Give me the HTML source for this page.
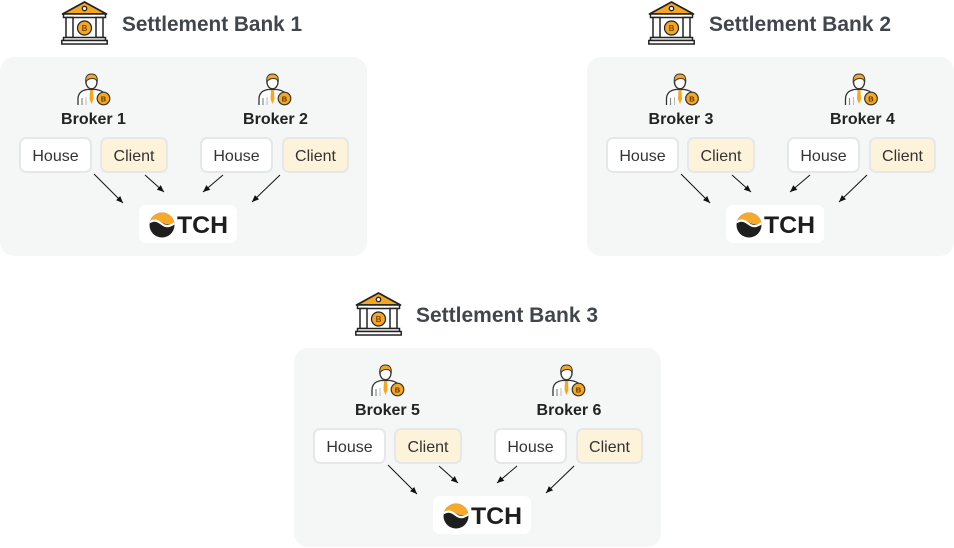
<!DOCTYPE html>
<html><head><meta charset="utf-8"><style>
html,body{margin:0;padding:0;background:#fff;}
svg{display:block;}
text{font-family:"Liberation Sans",Arial,sans-serif;}
.t{font-size:21px;font-weight:bold;fill:#41464c;}
.b{font-size:16px;font-weight:bold;fill:#222;text-anchor:middle;}
.l{font-size:16px;fill:#333;text-anchor:middle;}
.tch{font-size:24px;font-weight:bold;fill:#1e1e1e;}
.cb{font-size:8px;font-weight:bold;fill:#7a4a00;text-anchor:middle;}
.cs{font-size:7.5px;font-weight:bold;fill:#5a3600;text-anchor:middle;}
.ln{stroke:#111;stroke-width:1;fill:none;}
</style></head><body>
<svg width="954" height="548" viewBox="0 0 954 548" xmlns="http://www.w3.org/2000/svg">
<defs>
<marker id="ah" markerWidth="8" markerHeight="8" refX="7" refY="4" orient="auto" markerUnits="userSpaceOnUse">
<path d="M0,1 L7,4 L0,7 Z" fill="#111"/>
</marker>
<clipPath id="lc"><circle cx="162" cy="225" r="12.5"/></clipPath>
</defs>

<!-- PANEL 1 -->
<g transform="translate(0,0)">
<rect x="0" y="57" width="367" height="199" rx="14" fill="#f5f6f6"/>
<g transform="translate(61,1)">
<polygon points="23.5,1 1.5,13 45.5,13" fill="#f5a623" stroke="#222" stroke-width="1.8" stroke-linejoin="round"/>
<circle cx="23.5" cy="7.5" r="2.2" fill="#fff" stroke="#222" stroke-width="1.3"/>
<rect x="2.5" y="13" width="42" height="3.5" fill="#fff" stroke="#222" stroke-width="1.5"/>
<rect x="5" y="16.5" width="7" height="20" fill="#fff" stroke="#222" stroke-width="1.5"/>
<rect x="35" y="16.5" width="7" height="20" fill="#fff" stroke="#222" stroke-width="1.5"/>
<circle cx="23.5" cy="27" r="7" fill="#f5a623" stroke="#222" stroke-width="1.2"/>
<text x="23.5" y="30" class="cb">B</text>
<rect x="2.5" y="36.5" width="42" height="3" fill="#fff" stroke="#222" stroke-width="1.5"/>
<rect x="0.8" y="39.5" width="45.4" height="3.5" fill="#fff" stroke="#222" stroke-width="1.5"/>
</g>
<text x="122" y="31" class="t" textLength="180" lengthAdjust="spacingAndGlyphs">Settlement Bank 1</text>

<g transform="translate(77,72)">
<path d="M1 33 V27 Q1 19 10 17.5 H19 Q25 18.5 27 21" fill="#fff" stroke="#333" stroke-width="1.3"/>
<line x1="5" y1="26" x2="5" y2="33" stroke="#888" stroke-width="1.2"/>
<line x1="9" y1="25" x2="9" y2="33" stroke="#bbb" stroke-width="1"/>
<ellipse cx="14.5" cy="10" rx="5.5" ry="6.8" fill="#fff" stroke="#333" stroke-width="1.3"/>
<path d="M8.8 10 Q8 2 14.5 2 Q21 2 20.2 10 Q19 6 15 6.5 Q11 6.5 8.8 10 Z" fill="#f5a623" stroke="#333" stroke-width="1"/>
<polygon points="13,18 16,18 16.5,27 14.5,32 12.5,27" fill="#f5a623"/>
<circle cx="26.5" cy="26.5" r="6.3" fill="#f5a623" stroke="#333" stroke-width="1.2"/>
<text x="26.5" y="29.3" class="cs">B</text>
</g>
<text x="93.5" y="124" class="b">Broker 1</text>
<g transform="translate(258,72)">
<path d="M1 33 V27 Q1 19 10 17.5 H19 Q25 18.5 27 21" fill="#fff" stroke="#333" stroke-width="1.3"/>
<line x1="5" y1="26" x2="5" y2="33" stroke="#888" stroke-width="1.2"/>
<line x1="9" y1="25" x2="9" y2="33" stroke="#bbb" stroke-width="1"/>
<ellipse cx="14.5" cy="10" rx="5.5" ry="6.8" fill="#fff" stroke="#333" stroke-width="1.3"/>
<path d="M8.8 10 Q8 2 14.5 2 Q21 2 20.2 10 Q19 6 15 6.5 Q11 6.5 8.8 10 Z" fill="#f5a623" stroke="#333" stroke-width="1"/>
<polygon points="13,18 16,18 16.5,27 14.5,32 12.5,27" fill="#f5a623"/>
<circle cx="26.5" cy="26.5" r="6.3" fill="#f5a623" stroke="#333" stroke-width="1.2"/>
<text x="26.5" y="29.3" class="cs">B</text>
</g>
<text x="275.5" y="124" class="b">Broker 2</text>

<rect x="20" y="138" width="71" height="34" rx="6" fill="#fff" stroke="#e5e7e9" stroke-width="2"/>
<text x="55.5" y="161" class="l">House</text>
<rect x="101" y="138" width="66" height="34" rx="6" fill="#fdf3da" stroke="#e5e7e9" stroke-width="2"/>
<text x="134" y="161" class="l">Client</text>
<rect x="201" y="138" width="71" height="34" rx="6" fill="#fff" stroke="#e5e7e9" stroke-width="2"/>
<text x="236.5" y="161" class="l">House</text>
<rect x="283" y="138" width="65" height="34" rx="6" fill="#fdf3da" stroke="#e5e7e9" stroke-width="2"/>
<text x="315.5" y="161" class="l">Client</text>

<line x1="94" y1="174" x2="123" y2="203" class="ln" marker-end="url(#ah)"/>
<line x1="145" y1="175" x2="164" y2="192" class="ln" marker-end="url(#ah)"/>
<line x1="223" y1="175" x2="203" y2="192" class="ln" marker-end="url(#ah)"/>
<line x1="280" y1="175" x2="252" y2="202" class="ln" marker-end="url(#ah)"/>

<rect x="139" y="205" width="98" height="38" rx="7" fill="#fff"/>
<g clip-path="url(#lc)">
<rect x="148" y="211" width="30" height="30" fill="#1e1e1e"/>
<path d="M148 211 H178 V221 C172 224 168 226 163 223 C158 220 154 219 148 223 Z" fill="#f7a92c"/>
<path d="M147 224 C153 219 157 220 162 224 C167 228 171 226 178 221" stroke="#fff" stroke-width="2.2" fill="none"/>
</g>
<text x="177" y="233" class="tch" textLength="51" lengthAdjust="spacingAndGlyphs">TCH</text>
</g>

<!-- PANEL 2 -->
<g transform="translate(587,0)">
<rect x="0" y="57" width="367" height="199" rx="14" fill="#f5f6f6"/>
<g transform="translate(61,1)">
<polygon points="23.5,1 1.5,13 45.5,13" fill="#f5a623" stroke="#222" stroke-width="1.8" stroke-linejoin="round"/>
<circle cx="23.5" cy="7.5" r="2.2" fill="#fff" stroke="#222" stroke-width="1.3"/>
<rect x="2.5" y="13" width="42" height="3.5" fill="#fff" stroke="#222" stroke-width="1.5"/>
<rect x="5" y="16.5" width="7" height="20" fill="#fff" stroke="#222" stroke-width="1.5"/>
<rect x="35" y="16.5" width="7" height="20" fill="#fff" stroke="#222" stroke-width="1.5"/>
<circle cx="23.5" cy="27" r="7" fill="#f5a623" stroke="#222" stroke-width="1.2"/>
<text x="23.5" y="30" class="cb">B</text>
<rect x="2.5" y="36.5" width="42" height="3" fill="#fff" stroke="#222" stroke-width="1.5"/>
<rect x="0.8" y="39.5" width="45.4" height="3.5" fill="#fff" stroke="#222" stroke-width="1.5"/>
</g>
<text x="122" y="31" class="t" textLength="182" lengthAdjust="spacingAndGlyphs">Settlement Bank 2</text>

<g transform="translate(78.5,72)">
<path d="M1 33 V27 Q1 19 10 17.5 H19 Q25 18.5 27 21" fill="#fff" stroke="#333" stroke-width="1.3"/>
<line x1="5" y1="26" x2="5" y2="33" stroke="#888" stroke-width="1.2"/>
<line x1="9" y1="25" x2="9" y2="33" stroke="#bbb" stroke-width="1"/>
<ellipse cx="14.5" cy="10" rx="5.5" ry="6.8" fill="#fff" stroke="#333" stroke-width="1.3"/>
<path d="M8.8 10 Q8 2 14.5 2 Q21 2 20.2 10 Q19 6 15 6.5 Q11 6.5 8.8 10 Z" fill="#f5a623" stroke="#333" stroke-width="1"/>
<polygon points="13,18 16,18 16.5,27 14.5,32 12.5,27" fill="#f5a623"/>
<circle cx="26.5" cy="26.5" r="6.3" fill="#f5a623" stroke="#333" stroke-width="1.2"/>
<text x="26.5" y="29.3" class="cs">B</text>
</g>
<text x="94" y="124" class="b">Broker 3</text>
<g transform="translate(257.5,72)">
<path d="M1 33 V27 Q1 19 10 17.5 H19 Q25 18.5 27 21" fill="#fff" stroke="#333" stroke-width="1.3"/>
<line x1="5" y1="26" x2="5" y2="33" stroke="#888" stroke-width="1.2"/>
<line x1="9" y1="25" x2="9" y2="33" stroke="#bbb" stroke-width="1"/>
<ellipse cx="14.5" cy="10" rx="5.5" ry="6.8" fill="#fff" stroke="#333" stroke-width="1.3"/>
<path d="M8.8 10 Q8 2 14.5 2 Q21 2 20.2 10 Q19 6 15 6.5 Q11 6.5 8.8 10 Z" fill="#f5a623" stroke="#333" stroke-width="1"/>
<polygon points="13,18 16,18 16.5,27 14.5,32 12.5,27" fill="#f5a623"/>
<circle cx="26.5" cy="26.5" r="6.3" fill="#f5a623" stroke="#333" stroke-width="1.2"/>
<text x="26.5" y="29.3" class="cs">B</text>
</g>
<text x="275.5" y="124" class="b">Broker 4</text>

<rect x="20" y="138" width="71" height="34" rx="6" fill="#fff" stroke="#e5e7e9" stroke-width="2"/>
<text x="55.5" y="161" class="l">House</text>
<rect x="101" y="138" width="66" height="34" rx="6" fill="#fdf3da" stroke="#e5e7e9" stroke-width="2"/>
<text x="134" y="161" class="l">Client</text>
<rect x="201" y="138" width="71" height="34" rx="6" fill="#fff" stroke="#e5e7e9" stroke-width="2"/>
<text x="236.5" y="161" class="l">House</text>
<rect x="283" y="138" width="65" height="34" rx="6" fill="#fdf3da" stroke="#e5e7e9" stroke-width="2"/>
<text x="315.5" y="161" class="l">Client</text>

<line x1="94" y1="174" x2="123" y2="203" class="ln" marker-end="url(#ah)"/>
<line x1="145" y1="175" x2="164" y2="192" class="ln" marker-end="url(#ah)"/>
<line x1="223" y1="175" x2="203" y2="192" class="ln" marker-end="url(#ah)"/>
<line x1="280" y1="175" x2="252" y2="202" class="ln" marker-end="url(#ah)"/>

<rect x="139" y="205" width="98" height="38" rx="7" fill="#fff"/>
<g clip-path="url(#lc)">
<rect x="148" y="211" width="30" height="30" fill="#1e1e1e"/>
<path d="M148 211 H178 V221 C172 224 168 226 163 223 C158 220 154 219 148 223 Z" fill="#f7a92c"/>
<path d="M147 224 C153 219 157 220 162 224 C167 228 171 226 178 221" stroke="#fff" stroke-width="2.2" fill="none"/>
</g>
<text x="177" y="233" class="tch" textLength="51" lengthAdjust="spacingAndGlyphs">TCH</text>
</g>

<!-- PANEL 3 -->
<g transform="translate(294,291)">
<rect x="0" y="57" width="367" height="199" rx="14" fill="#f5f6f6"/>
<g transform="translate(61,1)">
<polygon points="23.5,1 1.5,13 45.5,13" fill="#f5a623" stroke="#222" stroke-width="1.8" stroke-linejoin="round"/>
<circle cx="23.5" cy="7.5" r="2.2" fill="#fff" stroke="#222" stroke-width="1.3"/>
<rect x="2.5" y="13" width="42" height="3.5" fill="#fff" stroke="#222" stroke-width="1.5"/>
<rect x="5" y="16.5" width="7" height="20" fill="#fff" stroke="#222" stroke-width="1.5"/>
<rect x="35" y="16.5" width="7" height="20" fill="#fff" stroke="#222" stroke-width="1.5"/>
<circle cx="23.5" cy="27" r="7" fill="#f5a623" stroke="#222" stroke-width="1.2"/>
<text x="23.5" y="30" class="cb">B</text>
<rect x="2.5" y="36.5" width="42" height="3" fill="#fff" stroke="#222" stroke-width="1.5"/>
<rect x="0.8" y="39.5" width="45.4" height="3.5" fill="#fff" stroke="#222" stroke-width="1.5"/>
</g>
<text x="122" y="31" class="t" textLength="182" lengthAdjust="spacingAndGlyphs">Settlement Bank 3</text>

<g transform="translate(77,72)">
<path d="M1 33 V27 Q1 19 10 17.5 H19 Q25 18.5 27 21" fill="#fff" stroke="#333" stroke-width="1.3"/>
<line x1="5" y1="26" x2="5" y2="33" stroke="#888" stroke-width="1.2"/>
<line x1="9" y1="25" x2="9" y2="33" stroke="#bbb" stroke-width="1"/>
<ellipse cx="14.5" cy="10" rx="5.5" ry="6.8" fill="#fff" stroke="#333" stroke-width="1.3"/>
<path d="M8.8 10 Q8 2 14.5 2 Q21 2 20.2 10 Q19 6 15 6.5 Q11 6.5 8.8 10 Z" fill="#f5a623" stroke="#333" stroke-width="1"/>
<polygon points="13,18 16,18 16.5,27 14.5,32 12.5,27" fill="#f5a623"/>
<circle cx="26.5" cy="26.5" r="6.3" fill="#f5a623" stroke="#333" stroke-width="1.2"/>
<text x="26.5" y="29.3" class="cs">B</text>
</g>
<text x="93.5" y="124" class="b">Broker 5</text>
<g transform="translate(258,72)">
<path d="M1 33 V27 Q1 19 10 17.5 H19 Q25 18.5 27 21" fill="#fff" stroke="#333" stroke-width="1.3"/>
<line x1="5" y1="26" x2="5" y2="33" stroke="#888" stroke-width="1.2"/>
<line x1="9" y1="25" x2="9" y2="33" stroke="#bbb" stroke-width="1"/>
<ellipse cx="14.5" cy="10" rx="5.5" ry="6.8" fill="#fff" stroke="#333" stroke-width="1.3"/>
<path d="M8.8 10 Q8 2 14.5 2 Q21 2 20.2 10 Q19 6 15 6.5 Q11 6.5 8.8 10 Z" fill="#f5a623" stroke="#333" stroke-width="1"/>
<polygon points="13,18 16,18 16.5,27 14.5,32 12.5,27" fill="#f5a623"/>
<circle cx="26.5" cy="26.5" r="6.3" fill="#f5a623" stroke="#333" stroke-width="1.2"/>
<text x="26.5" y="29.3" class="cs">B</text>
</g>
<text x="275" y="124" class="b">Broker 6</text>

<rect x="20" y="138" width="71" height="34" rx="6" fill="#fff" stroke="#e5e7e9" stroke-width="2"/>
<text x="55.5" y="161" class="l">House</text>
<rect x="101" y="138" width="66" height="34" rx="6" fill="#fdf3da" stroke="#e5e7e9" stroke-width="2"/>
<text x="134" y="161" class="l">Client</text>
<rect x="201" y="138" width="71" height="34" rx="6" fill="#fff" stroke="#e5e7e9" stroke-width="2"/>
<text x="236.5" y="161" class="l">House</text>
<rect x="283" y="138" width="65" height="34" rx="6" fill="#fdf3da" stroke="#e5e7e9" stroke-width="2"/>
<text x="315.5" y="161" class="l">Client</text>

<line x1="94" y1="174" x2="123" y2="203" class="ln" marker-end="url(#ah)"/>
<line x1="145" y1="175" x2="164" y2="192" class="ln" marker-end="url(#ah)"/>
<line x1="223" y1="175" x2="203" y2="192" class="ln" marker-end="url(#ah)"/>
<line x1="280" y1="175" x2="252" y2="202" class="ln" marker-end="url(#ah)"/>

<rect x="139" y="205" width="98" height="38" rx="7" fill="#fff"/>
<g clip-path="url(#lc)">
<rect x="148" y="211" width="30" height="30" fill="#1e1e1e"/>
<path d="M148 211 H178 V221 C172 224 168 226 163 223 C158 220 154 219 148 223 Z" fill="#f7a92c"/>
<path d="M147 224 C153 219 157 220 162 224 C167 228 171 226 178 221" stroke="#fff" stroke-width="2.2" fill="none"/>
</g>
<text x="177" y="233" class="tch" textLength="51" lengthAdjust="spacingAndGlyphs">TCH</text>
</g>
</svg>
</body></html>
